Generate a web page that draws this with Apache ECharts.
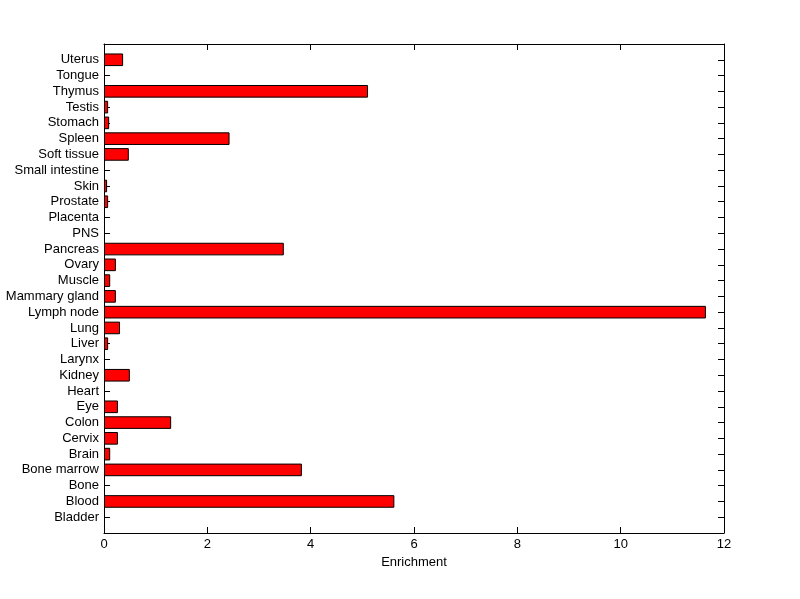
<!DOCTYPE html>
<html>
<head>
<meta charset="utf-8">
<script src="https://cdn.jsdelivr.net/npm/echarts@6/dist/echarts.min.js"></script>
<style>html,body{margin:0;padding:0;background:#fff;}#c{width:800px;height:599px;}</style>
</head>
<body>
<div id="c"></div>
<script>
// Categories, bottom to top
var categories = ['Bladder','Blood','Bone','Bone marrow','Brain','Cervix','Colon','Eye','Heart','Kidney',
  'Larynx','Liver','Lung','Lymph node','Mammary gland','Muscle','Ovary','Pancreas','PNS','Placenta',
  'Prostate','Skin','Small intestine','Soft tissue','Spleen','Stomach','Testis','Thymus','Tongue','Uterus'];
var enrichment = [0, 5.62, 0, 3.83, 0.12, 0.27, 1.30, 0.27, 0, 0.50,
  0, 0.08, 0.31, 11.65, 0.23, 0.12, 0.23, 3.48, 0, 0,
  0.08, 0.06, 0, 0.48, 2.43, 0.10, 0.08, 5.11, 0, 0.37];
var xTicks = [0, 2, 4, 6, 8, 10, 12];

// pad one empty slot at each end (axis runs 0..31 like the original)
var axisCats = [''].concat(categories).concat(['']);
var barData = ['-'].concat(enrichment.map(function(v){ return v === 0 ? '-' : v; })).concat(['-']);

var font = 'Liberation Sans, Arial, Helvetica, sans-serif';
var chart = echarts.init(document.getElementById('c'), null, {renderer: 'canvas'});
chart.setOption({
  backgroundColor: '#ffffff',
  animation: false,
  grid: {left: 104, right: 76, top: 44, bottom: 66, containLabel: false},
  xAxis: [{
    type: 'value', min: xTicks[0], max: xTicks[xTicks.length - 1], interval: 2,
    position: 'bottom',
    name: 'Enrichment', nameLocation: 'middle', nameGap: 21,
    nameTextStyle: {color: '#000', fontSize: 13, fontFamily: font},
    axisLine: {show: true, onZero: false, lineStyle: {color: '#000', width: 1}},
    axisTick: {show: true, inside: true, length: 6, lineStyle: {color: '#000'}},
    axisLabel: {color: '#000', fontSize: 13, fontFamily: font, margin: 5},
    splitLine: {show: false}
  }, {
    type: 'value', min: xTicks[0], max: xTicks[xTicks.length - 1], interval: 2,
    position: 'top',
    axisLine: {show: true, onZero: false, lineStyle: {color: '#000', width: 1}},
    axisTick: {show: true, inside: true, length: 6, lineStyle: {color: '#000'}},
    axisLabel: {show: false},
    splitLine: {show: false}
  }],
  yAxis: [{
    type: 'category', data: axisCats, boundaryGap: false, position: 'left',
    axisLine: {show: true, onZero: false, lineStyle: {color: '#000', width: 1}},
    axisTick: {show: true, inside: true, length: 6, interval: 0, lineStyle: {color: '#000'}},
    axisLabel: {color: '#000', fontSize: 13, fontFamily: font, margin: 5, interval: 0},
    splitLine: {show: false}
  }, {
    type: 'category', data: axisCats, boundaryGap: false, position: 'right',
    axisLine: {show: true, onZero: false, lineStyle: {color: '#000', width: 1}},
    axisTick: {show: true, inside: true, length: 6, interval: 0, lineStyle: {color: '#000'}},
    axisLabel: {show: false},
    splitLine: {show: false}
  }],
  series: [{
    type: 'bar', xAxisIndex: 0, yAxisIndex: 0,
    data: barData, barWidth: '80%',
    itemStyle: {color: '#ff0000', borderColor: '#000', borderWidth: 1}
  }]
});
</script>
</body>
</html>
